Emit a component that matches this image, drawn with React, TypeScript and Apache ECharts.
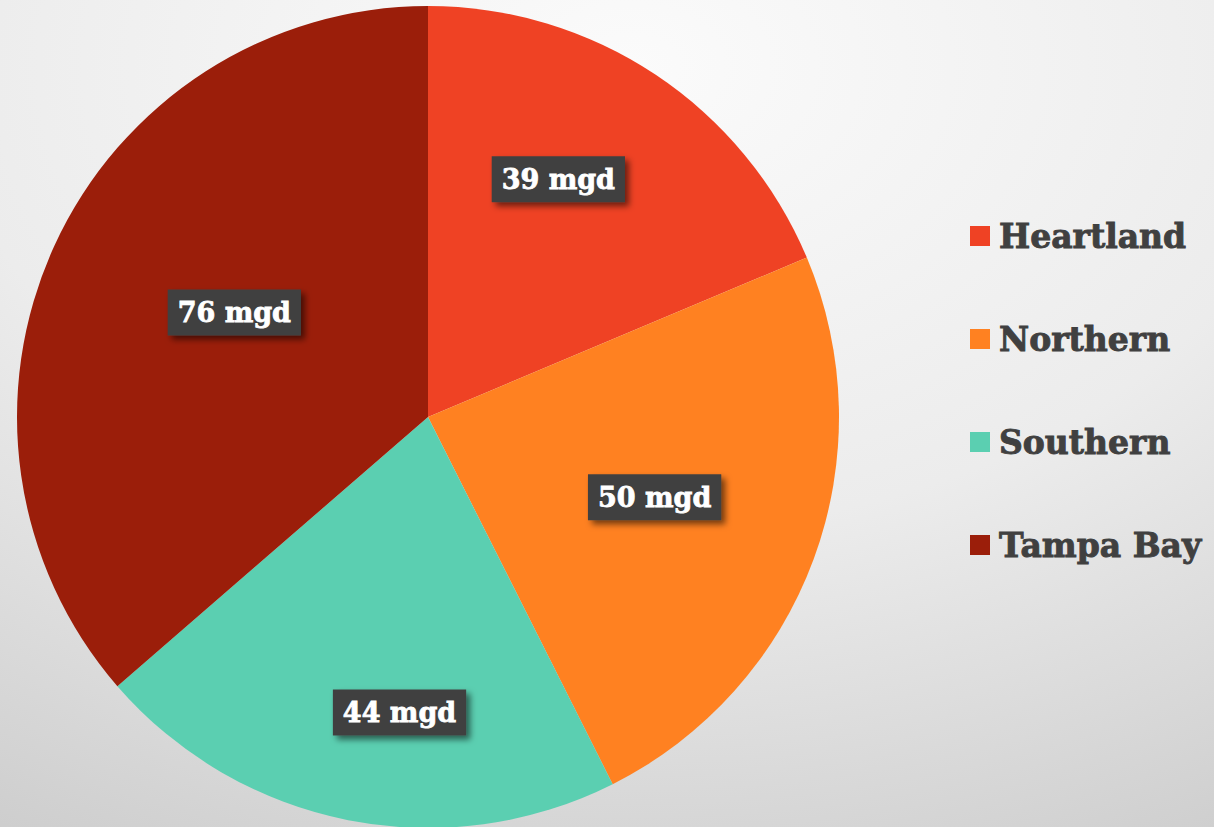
import React, { useEffect, useRef } from 'react';
import * as echarts from 'echarts';

const categories = ['Heartland', 'Northern', 'Southern', 'Tampa Bay'];
const values = [39, 50, 44, 76];
const unit = 'mgd';

export default function App() {
  const ref = useRef<HTMLDivElement>(null);

  useEffect(() => {
    document.body.style.margin = '0';
    const el = ref.current;
    if (!el) return;
    const chart = echarts.init(el, undefined, { renderer: 'svg' });
    const colors = ['#EF4224', '#FF8121', '#5BCFB1', '#9B1E0A'];
    // label nudges relative to the default inside position (layout only)
    const labelShift = [
      [15, -64],
      [31, 8],
      [12, 91],
      [-4, -18],
    ];
    const font = '"DejaVu Serif", serif';
    chart.setOption({
      animation: false,
      backgroundColor: {
        type: 'radial',
        x: 0.52,
        y: 0.08,
        r: 1.25,
        colorStops: [
          { offset: 0, color: '#fbfbfb' },
          { offset: 0.45, color: '#ececec' },
          { offset: 1, color: '#c2c2c2' },
        ],
      },
      color: colors,
      legend: {
        orient: 'vertical',
        left: 970,
        top: 219,
        padding: 0,
        itemWidth: 20,
        itemHeight: 20,
        itemGap: 69,
        icon: 'rect',
        selectedMode: false,
        data: categories,
        textStyle: {
          fontFamily: font,
          fontWeight: 'bold',
          fontSize: 33,
          lineHeight: 34,
          color: '#404040',
          textBorderColor: '#404040',
          textBorderWidth: 0.9,
          padding: [0, 0, 0, 4],
        },
      },
      series: [
        {
          type: 'pie',
          center: [428, 417],
          radius: 411,
          startAngle: 90,
          clockwise: true,
          silent: true,
          itemStyle: { borderWidth: 0 },
          data: categories.map((c, i) => ({ name: c, value: values[i] })),
          label: {
            show: true,
            position: 'inside',
            formatter: (p: any) => `${p.value} ${unit}`,
            fontFamily: font,
            fontWeight: 'bold',
            fontSize: 27,
            lineHeight: 30,
            color: '#ffffff',
            textBorderColor: '#ffffff',
            textBorderWidth: 0.8,
            backgroundColor: '#404040',
            padding: [8, 10, 8, 10],
            shadowColor: 'rgba(0,0,0,0.55)',
            shadowBlur: 6,
            shadowOffsetX: 4,
            shadowOffsetY: 4,
          },
          labelLine: { show: false },
          labelLayout: (p: any) => ({
            dx: labelShift[p.dataIndex][0],
            dy: labelShift[p.dataIndex][1],
          }),
        },
      ],
    });
    return () => chart.dispose();
  }, []);

  return <div ref={ref} style={{ width: 1214, height: 827 }} />;
}
